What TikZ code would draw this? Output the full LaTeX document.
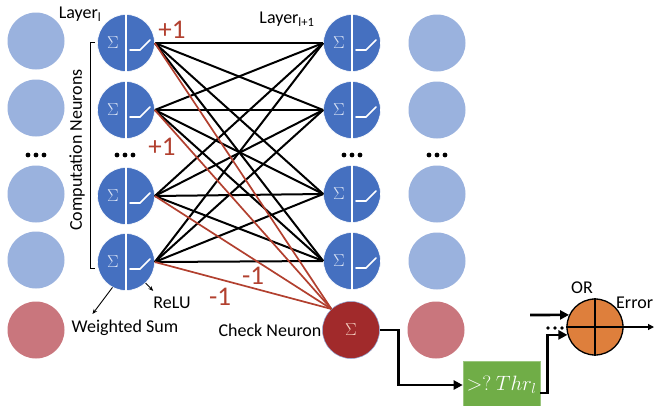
\documentclass[tikz,border=0pt]{standalone}
\usepackage{fontspec}
\setmainfont{Carlito}
\usetikzlibrary{arrows.meta,calc}

\definecolor{lightblue}{HTML}{9AB2DE}
\definecolor{nblue}{HTML}{4570C0}
\definecolor{lightred}{HTML}{C9767D}
\definecolor{darkred}{HTML}{A12A2B}
\definecolor{wred}{HTML}{B2402F}
\definecolor{orgate}{HTML}{DE7F3C}
\definecolor{thrgreen}{HTML}{70AD47}
\definecolor{sigblue}{HTML}{DCE5F6}
\definecolor{sigred}{HTML}{F6D3C4}

\tikzset{
  ghost/.style={circle, fill=lightblue, minimum size=57pt, inner sep=0pt},
  ghostred/.style={circle, fill=lightred, minimum size=57pt, inner sep=0pt},
  comp/.style={circle, fill=nblue, draw=white, line width=0.6pt, minimum size=57pt, inner sep=0pt},
  checkn/.style={circle, fill=darkred, draw=nblue!60, line width=0.5pt, minimum size=57pt, inner sep=0pt},
  orgatestyle/.style={circle, fill=orgate, draw=black, line width=1.3pt, minimum size=56pt, inner sep=0pt},
  thrbox/.style={rectangle, fill=thrgreen, draw=thrgreen!70!white, line width=0.6pt, minimum width=77pt, minimum height=48pt, inner sep=0pt, text=white, font=\fontsize{20}{22}\selectfont},
  lbl/.style={font=\fontsize{18}{20}\selectfont, inner sep=1pt},
  wlbl/.style={font=\fontsize{27}{29}\selectfont, text=wred, inner sep=0pt},
  sigma/.style={font=\fontsize{17}{18}\selectfont, text=sigblue, inner sep=0pt},
  wire/.style={line width=2pt, black},
  redwire/.style={line width=1.7pt, wred},
  flow/.style={line width=2.6pt, black, -{Triangle[length=9pt,width=9pt]}, line join=miter},
  pointer/.style={line width=0.9pt, black, -{Stealth[length=5pt,width=4pt]}},
  dot/.style={circle, fill=black, inner sep=0pt, minimum size=4.8pt},
}

\begin{document}
\begin{tikzpicture}[x=1pt, y=-1pt]
\useasboundingbox (0,0) rectangle (654,405);
\clip (0,0) rectangle (654,405);
\fill[white] (0,0) rectangle (654,405);

% outer columns (neurons not involved in the check)
\node[ghost] (a1) at (36,41) {};
\node[ghost] (a2) at (36,108) {};
\node[ghost] (a3) at (36,194) {};
\node[ghost] (a4) at (36,260) {};
\node[ghostred] (a5) at (36,330) {};
\node[ghost] (b1) at (437,43) {};
\node[ghost] (b2) at (437,110) {};
\node[ghost] (b3) at (437,194) {};
\node[ghost] (b4) at (437,261) {};
\node[ghostred] (b5) at (436,330) {};

% layer l and layer l+1
\node[comp] (c1) at (126,43) {};
\node[comp] (c2) at (126,110) {};
\node[comp] (c3) at (126,196) {};
\node[comp] (c4) at (126,262) {};
\node[comp] (d1) at (352,43) {};
\node[comp] (d2) at (352,110) {};
\node[comp] (d3) at (352,194) {};
\node[comp] (d4) at (352,261) {};

% check neuron
\node[checkn] (chk) at (351,330) {};
\node[font=\fontsize{19}{20}\selectfont, text=sigred] at (chk.center) {$\Sigma$};

% fully connected weights
\foreach \i in {1,2,3,4} {
  \foreach \j in {1,2,3,4} {
    \draw[wire] (c\i.east) -- (d\j.west);
  }
}
% check weights
\foreach \i in {1,2,3,4} {
  \draw[redwire] (c\i.east) -- (chk.133);
}

% neuron internals: weighted sum and ReLU halves
\foreach \n in {c1,c2,c3,c4,d1,d2,d3,d4} {
  \draw[white, line width=1.1pt] (\n.north) -- (\n.south);
  \node[sigma] at ([xshift=-13pt]\n.center) {$\Sigma$};
  \draw[white, line width=1.6pt, line cap=round] ([xshift=4pt,yshift=-7pt]\n.center) -- ++(10,0) -- ++(10,-10);
}

% ellipses
\foreach \x in {36,125,352,437} {
  \foreach \k in {-8,0,8} {
    \node[dot] at (\x+\k,155) {};
  }
}

% labels
\node[lbl] (lay) at (80,14) {Layer\textsubscript{l}};
\node[lbl] (lay2) at (287,19) {Layer\textsubscript{l+1}};
\node[lbl, rotate=90] (cn) at (77,150) {Computation Neurons};
\draw[line width=1pt] (95,42) -- (90,42) -- (90,268) -- (95,268);

\node[wlbl] (w1) at (172,30) {+1};
\node[wlbl] (w2) at (162,147) {+1};
\node[wlbl] (w3) at (253,276) {-1};
\node[wlbl] (w4) at (220,297) {-1};

\node[lbl] (relu) at (172,303) {ReLU};
\node[lbl] (ws) at (125,328) {Weighted Sum};
\node[lbl] (cnl) at (270,330) {Check Neuron};
\draw[pointer] (c4.242) -- ([shift={(22pt,5pt)}]ws.north west);
\draw[pointer] (c4.313) -- ([shift={(1pt,5pt)}]relu.north west);

% threshold comparison and error OR gate
\node[thrbox] (thr) at (501.5,385) {$>?\ Thr_l$};
\node[orgatestyle] (or) at (595,327) {};
\draw[black, line width=1.3pt] (or.north) -- (or.south);
\draw[black, line width=1.3pt] (or.west) -- (or.east);
\node[lbl] (orl) at (582,288) {OR};
\node[lbl, anchor=west] (err) at (615,303) {Error};

\draw[flow] (chk.east) -- ++(19,0) |- (thr.west);
\draw[flow] ([yshift=-8pt]thr.east) -- ++(7,0) |- (or.196);
\coordinate (in1) at (530,315);
\draw[flow] (in1) -- (or.155);
\foreach \k in {548,555,562} {
  \node[dot, minimum size=3.8pt] at (\k,328) {};
}
\coordinate (out) at (654,327);
\draw[line width=1.2pt, -{Triangle[length=6pt,width=6pt]}] (or.east) -- (out);
\end{tikzpicture}
\end{document}
